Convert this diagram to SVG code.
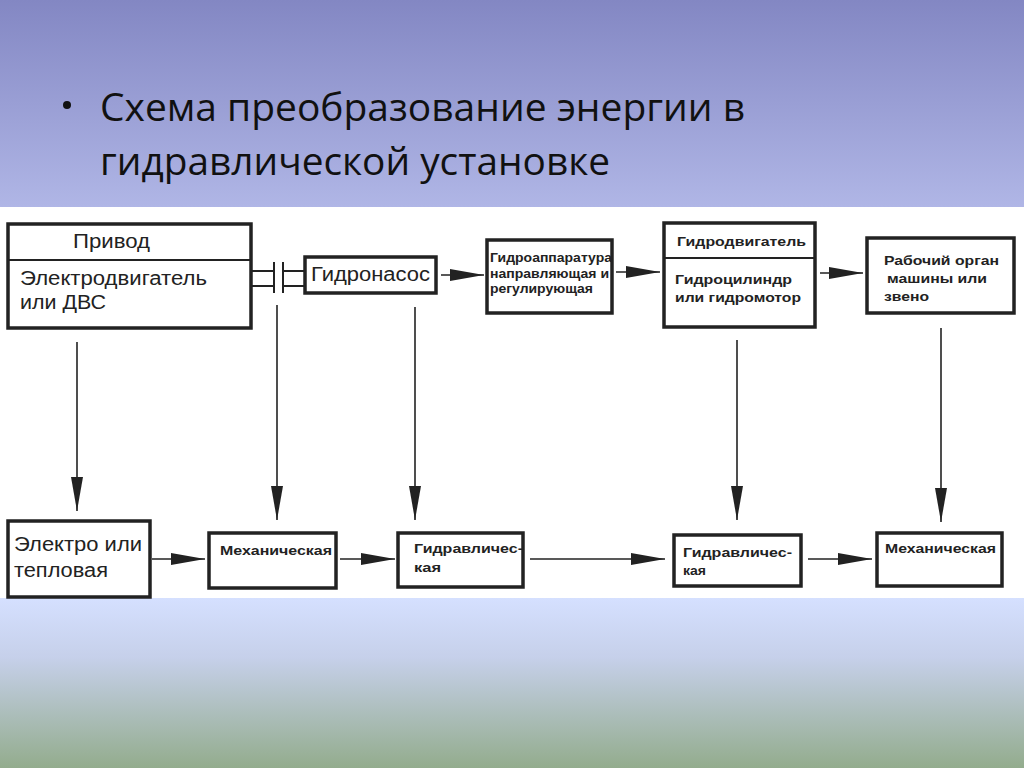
<svg xmlns="http://www.w3.org/2000/svg" width="1024" height="768" viewBox="0 0 1024 768">
<defs>
<linearGradient id="top" x1="0" y1="0" x2="0" y2="1">
<stop offset="0" stop-color="#8387c3"/>
<stop offset="1" stop-color="#b0b6e6"/>
</linearGradient>
<linearGradient id="bot" x1="0" y1="0" x2="0" y2="1">
<stop offset="0" stop-color="#d5e0ff"/>
<stop offset="0.35" stop-color="#c6d0ea"/>
<stop offset="1" stop-color="#93ac8d"/>
</linearGradient>
<marker id="ah" markerWidth="34" markerHeight="12" refX="34" refY="6" orient="auto" markerUnits="userSpaceOnUse">
<path d="M0,0 L34,6 L0,12 Z" fill="#222"/>
</marker>
</defs>
<style>
.box{fill:#fff;stroke:#222;stroke-width:3.5}
.ln{stroke:#222;stroke-width:2;fill:none}
.con{stroke:#222;stroke-width:1.6;fill:none;marker-end:url(#ah)}
.big{font-family:"Liberation Sans",Arial,sans-serif;font-size:20px;fill:#222}
.sm{font-family:"Liberation Sans",Arial,sans-serif;font-size:13.5px;font-weight:bold;fill:#222}
.title{font-family:"Open Sans","Noto Sans",sans-serif;font-size:38px;fill:#111}
</style>
<rect x="0" y="0" width="1024" height="207" fill="url(#top)"/>
<rect x="0" y="207" width="1024" height="391" fill="#fff"/>
<rect x="0" y="598" width="1024" height="170" fill="url(#bot)"/>

<g id="title">
<circle cx="67" cy="105" r="4" fill="#111"/>
<text class="title" x="100" y="121" textLength="645" lengthAdjust="spacingAndGlyphs">Схема преобразование энергии в</text>
<text class="title" x="100" y="175" textLength="510" lengthAdjust="spacingAndGlyphs">гидравлической установке</text>
</g>

<g id="connectors">
<path class="ln" d="M251,271 H274 M251,286 H274 M274,262 V293 M283,262 V293 M283,271 H305 M283,286 H305"/>
<line class="con" x1="441" y1="275" x2="484" y2="275"/>
<line class="con" x1="616" y1="272" x2="660" y2="272"/>
<line class="con" x1="820" y1="273" x2="863" y2="273"/>
<line class="con" x1="77" y1="342" x2="77" y2="511"/>
<line class="con" x1="277" y1="305" x2="277" y2="520"/>
<line class="con" x1="415" y1="307" x2="415" y2="520"/>
<line class="con" x1="737" y1="340" x2="737" y2="520"/>
<line class="con" x1="941" y1="328" x2="941" y2="522"/>
<line class="con" x1="152" y1="559" x2="205" y2="559"/>
<line class="con" x1="340" y1="559" x2="395" y2="559"/>
<line class="con" x1="530" y1="559" x2="665" y2="559"/>
<line class="con" x1="808" y1="559" x2="872" y2="559"/>
</g>

<g id="privod">
<rect class="box" x="8" y="224" width="243" height="104"/>
<line class="ln" x1="8" y1="260" x2="251" y2="260" stroke-width="2.5"/>
<text class="big" x="73" y="248" textLength="77" lengthAdjust="spacingAndGlyphs">Привод</text>
<text class="big" x="20" y="285" textLength="187" lengthAdjust="spacingAndGlyphs">Электродвигатель</text>
<text class="big" x="20" y="309" textLength="86" lengthAdjust="spacingAndGlyphs">или ДВС</text>
</g>

<g id="gidronasos">
<rect class="box" x="305" y="257" width="131" height="36"/>
<text class="big" x="311" y="281" textLength="119" lengthAdjust="spacingAndGlyphs">Гидронасос</text>
</g>

<g id="gidroapparatura">
<rect class="box" x="487" y="240" width="125" height="73"/>
<text class="sm" x="490" y="262" font-size="12.5" textLength="122" lengthAdjust="spacingAndGlyphs">Гидроаппаратура</text>
<text class="sm" x="490" y="278" font-size="12.5" textLength="119" lengthAdjust="spacingAndGlyphs">направляющая и</text>
<text class="sm" x="490" y="293" font-size="12.5" textLength="103" lengthAdjust="spacingAndGlyphs">регулирующая</text>
</g>

<g id="gidrodvigatel">
<rect class="box" x="664" y="223" width="151" height="104"/>
<line class="ln" x1="664" y1="258" x2="815" y2="258" stroke-width="2.5"/>
<text class="sm" x="677" y="246" textLength="129" lengthAdjust="spacingAndGlyphs">Гидродвигатель</text>
<text class="sm" x="675" y="284" font-size="14.5" textLength="117" lengthAdjust="spacingAndGlyphs">Гидроцилиндр</text>
<text class="sm" x="675" y="302" font-size="14.5" textLength="126" lengthAdjust="spacingAndGlyphs">или гидромотор</text>
</g>

<g id="rabochiy">
<rect class="box" x="867" y="238" width="147" height="75"/>
<text class="sm" x="884" y="265" font-size="14" textLength="115" lengthAdjust="spacingAndGlyphs">Рабочий орган</text>
<text class="sm" x="887" y="283" font-size="14" textLength="100" lengthAdjust="spacingAndGlyphs">машины или</text>
<text class="sm" x="884" y="301" font-size="14" textLength="45" lengthAdjust="spacingAndGlyphs">звено</text>
</g>

<g id="elektro">
<rect class="box" x="8" y="521" width="142" height="76"/>
<text class="big" x="14" y="551" textLength="128" lengthAdjust="spacingAndGlyphs">Электро или</text>
<text class="big" x="14" y="577" textLength="94" lengthAdjust="spacingAndGlyphs">тепловая</text>
</g>

<g id="mech1">
<rect class="box" x="209" y="533" width="127" height="55"/>
<text class="sm" x="220" y="555" textLength="112" lengthAdjust="spacingAndGlyphs">Механическая</text>
</g>

<g id="gidr1">
<rect class="box" x="398" y="533" width="125" height="54"/>
<text class="sm" x="414" y="553" textLength="109" lengthAdjust="spacingAndGlyphs">Гидравличес-</text>
<text class="sm" x="414" y="572" textLength="27" lengthAdjust="spacingAndGlyphs">кая</text>
</g>

<g id="gidr2">
<rect class="box" x="674" y="535" width="127" height="51"/>
<text class="sm" x="683" y="557" textLength="109" lengthAdjust="spacingAndGlyphs">Гидравличес-</text>
<text class="sm" x="683" y="575" textLength="23" lengthAdjust="spacingAndGlyphs">кая</text>
</g>

<g id="mech2">
<rect class="box" x="877" y="533" width="125" height="53"/>
<text class="sm" x="885" y="553" textLength="111" lengthAdjust="spacingAndGlyphs">Механическая</text>
</g>
</svg>
